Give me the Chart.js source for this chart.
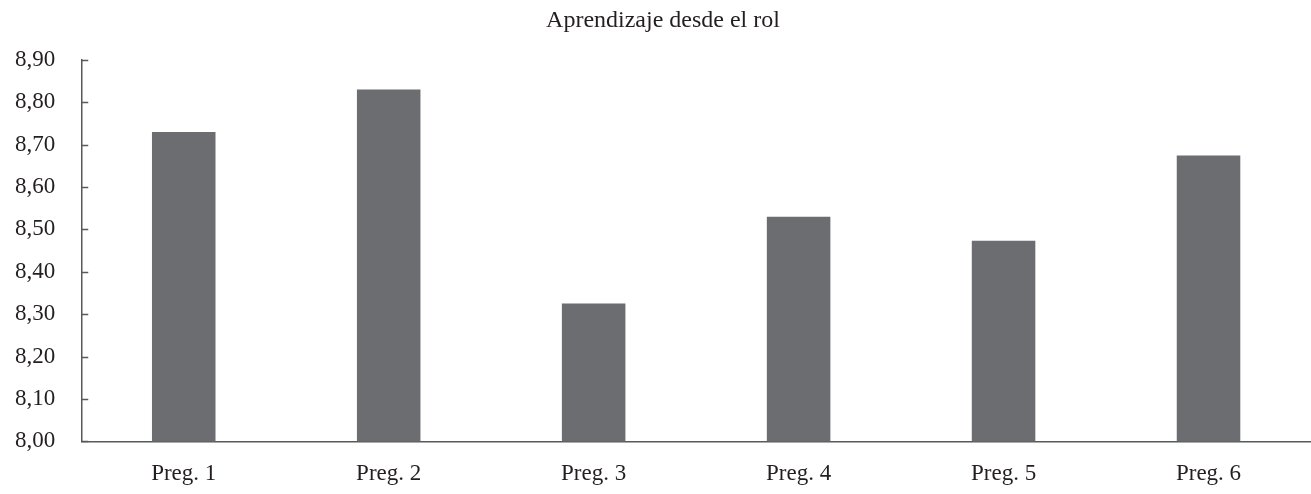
<!DOCTYPE html>
<html>
<head>
<meta charset="utf-8">
<script src="https://cdn.jsdelivr.net/npm/chart.js@4/dist/chart.umd.min.js"></script>
<style>
  html, body { margin: 0; padding: 0; background: #fff; }
  #wrap { width: 1311px; height: 494px; position: relative; }
</style>
</head>
<body>
<div id="wrap"><canvas id="chart"></canvas></div>
<script>
// data
const categories = ["Preg. 1", "Preg. 2", "Preg. 3", "Preg. 4", "Preg. 5", "Preg. 6"];
const scores = [8.73, 8.83, 8.325, 8.53, 8.473, 8.674];
const yTicks = [8.0, 8.1, 8.2, 8.3, 8.4, 8.5, 8.6, 8.7, 8.8, 8.9];

const FONT = "'Liberation Serif', 'Times New Roman', serif";
const INK = "#231f20";
const AXIS = "#58595b";

// short ticks pointing into the plot, like the original
const innerTicks = {
    id: "innerTicks",
    afterDraw(chart) {
        const y = chart.scales.y;
        const ctx = chart.ctx;
        ctx.save();
        ctx.strokeStyle = AXIS;
        ctx.lineWidth = 1.5;
        yTicks.forEach((v) => {
            const py = Math.round(y.getPixelForValue(v)) + 0.5;
            ctx.beginPath();
            ctx.moveTo(y.right, py);
            ctx.lineTo(y.right + 7, py);
            ctx.stroke();
        });
        ctx.restore();
    }
};

new Chart(document.getElementById("chart").getContext("2d"), {
    type: "bar",
    data: {
        labels: categories,
        datasets: [{
            data: scores,
            backgroundColor: "#6c6d71",
            barPercentage: 0.31,
            categoryPercentage: 1
        }]
    },
    options: {
        responsive: true,
        maintainAspectRatio: false,
        animation: false,
        layout: { autoPadding: false, padding: { left: 15, right: 0, top: 0, bottom: 6 } },
        plugins: {
            legend: { display: false },
            tooltip: { enabled: false },
            title: {
                display: true,
                text: "Aprendizaje desde el rol",
                color: INK,
                font: { family: FONT, size: 24, weight: "normal" },
                padding: { top: 6, bottom: 25 }
            }
        },
        scales: {
            x: {
                grid: { display: false, drawTicks: false },
                border: { color: AXIS, width: 1.5 },
                ticks: {
                    color: INK,
                    font: { family: FONT, size: 23 },
                    padding: 19
                },
                // chart.js reserves the tick padding twice, drop the extra one
                afterFit: (s) => { s.height -= s.options.ticks.padding; }
            },
            y: {
                min: 8.0,
                max: 8.9,
                afterBuildTicks: (axis) => { axis.ticks = yTicks.map((v) => ({ value: v })); },
                grid: { drawOnChartArea: false, drawTicks: false },
                border: { color: AXIS, width: 1.5 },
                ticks: {
                    color: INK,
                    font: { family: FONT, size: 23 },
                    padding: 26,
                    callback: (v) => Number(v).toFixed(2).replace(".", ",")
                },
                afterFit: (s) => { s.width -= s.options.ticks.padding; }
            }
        }
    },
    plugins: [innerTicks]
});
</script>
</body>
</html>
